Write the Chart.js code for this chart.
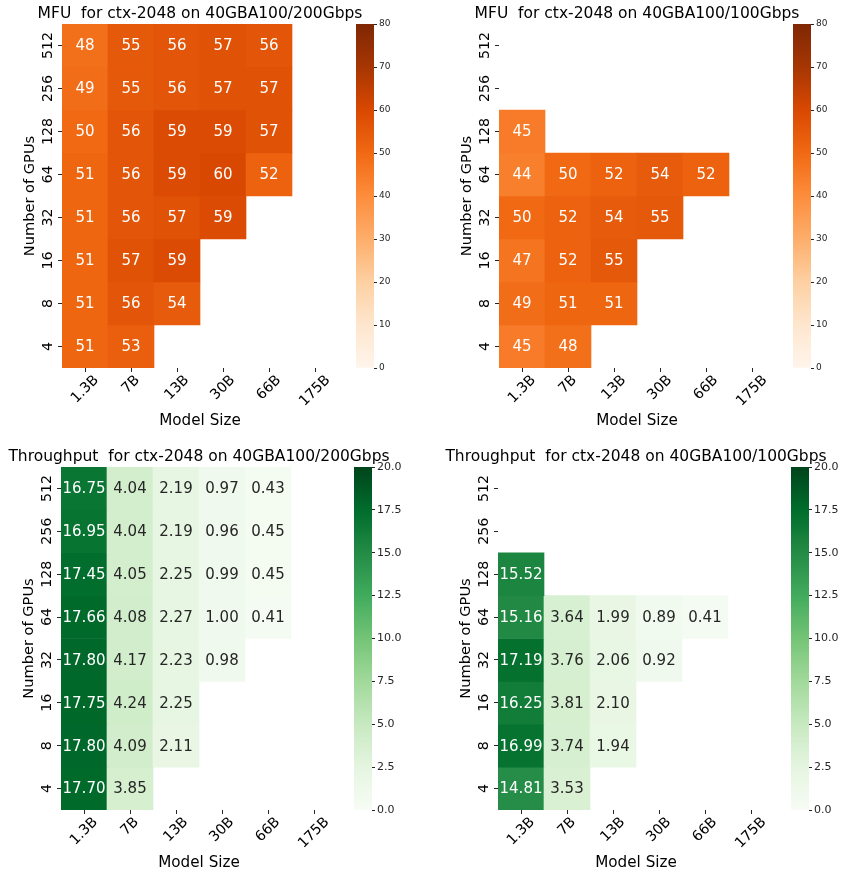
<!DOCTYPE html>
<html>
<head>
<meta charset="utf-8">
<script src="https://cdn.jsdelivr.net/npm/chart.js@4.4.1/dist/chart.umd.min.js"></script>
<style>
  html, body { margin: 0; padding: 0; background: #fff; overflow: hidden; }
  body { width: 841px; height: 875px; position: relative; }
  canvas { position: absolute; }
</style>
</head>
<body>
<canvas id="mfu200" width="402" height="430" style="left:0px;top:0px"></canvas>
<canvas id="mfu100" width="402" height="430" style="left:437px;top:0px"></canvas>
<canvas id="thr200" width="402" height="432" style="left:-1px;top:440px"></canvas>
<canvas id="thr100" width="402" height="432" style="left:436px;top:440px"></canvas>
<canvas id="cbMfu200" width="54" height="364" style="left:356px;top:14px"></canvas>
<canvas id="cbMfu100" width="54" height="364" style="left:793px;top:14px"></canvas>
<canvas id="cbThr200" width="54" height="363" style="left:354px;top:457px"></canvas>
<canvas id="cbThr100" width="54" height="363" style="left:791px;top:457px"></canvas>
<script>
// Categories
const modelSizes = ["1.3B", "7B", "13B", "30B", "66B", "175B"];
const gpuCounts = [512, 256, 128, 64, 32, 16, 8, 4];

// MFU (%) - rows follow gpuCounts, columns follow modelSizes
const mfu200 = [
  [48, 55, 56, 57, 56, null],
  [49, 55, 56, 57, 57, null],
  [50, 56, 59, 59, 57, null],
  [51, 56, 59, 60, 52, null],
  [51, 56, 57, 59, null, null],
  [51, 57, 59, null, null, null],
  [51, 56, 54, null, null, null],
  [51, 53, null, null, null, null],
];
const mfu100 = [
  [null, null, null, null, null, null],
  [null, null, null, null, null, null],
  [45, null, null, null, null, null],
  [44, 50, 52, 54, 52, null],
  [50, 52, 54, 55, null, null],
  [47, 52, 55, null, null, null],
  [49, 51, 51, null, null, null],
  [45, 48, null, null, null, null],
];

// Throughput
const thr200 = [
  [16.75, 4.04, 2.19, 0.97, 0.43, null],
  [16.95, 4.04, 2.19, 0.96, 0.45, null],
  [17.45, 4.05, 2.25, 0.99, 0.45, null],
  [17.66, 4.08, 2.27, 1.0, 0.41, null],
  [17.8, 4.17, 2.23, 0.98, null, null],
  [17.75, 4.24, 2.25, null, null, null],
  [17.8, 4.09, 2.11, null, null, null],
  [17.7, 3.85, null, null, null, null],
];
const thr100 = [
  [null, null, null, null, null, null],
  [null, null, null, null, null, null],
  [15.52, null, null, null, null, null],
  [15.16, 3.64, 1.99, 0.89, 0.41, null],
  [17.19, 3.76, 2.06, 0.92, null, null],
  [16.25, 3.81, 2.1, null, null, null],
  [16.99, 3.74, 1.94, null, null, null],
  [14.81, 3.53, null, null, null, null],
];

// Colormaps (matplotlib Oranges / Greens)
const oranges = ["#fff5eb", "#fee6ce", "#fdd0a2", "#fdae6b", "#fd8d3c", "#f16913", "#d94801", "#a63603", "#7f2704"];
const greens = ["#f7fcf5", "#e5f5e0", "#c7e9c0", "#a1d99b", "#74c476", "#41ab5d", "#238b45", "#006d2c", "#00441b"];

Chart.defaults.font.family = "'DejaVu Sans', sans-serif";
Chart.defaults.color = "#000";

const FONT = "'DejaVu Sans', sans-serif";

function hexToRgb(h) {
  return [1, 3, 5].map((i) => parseInt(h.slice(i, i + 2), 16));
}

function cmapRgb(stops, t) {
  t = Math.max(0, Math.min(1, t));
  const pos = t * (stops.length - 1);
  const i = Math.min(Math.floor(pos), stops.length - 2);
  const f = pos - i;
  const a = hexToRgb(stops[i]);
  const b = hexToRgb(stops[i + 1]);
  return a.map((v, k) => Math.round(v + (b[k] - v) * f));
}

// seaborn picks dark or white annotation text from the cell luminance
function textColor(rgb) {
  const lin = rgb.map((c) => {
    c = c / 255;
    return c <= 0.03928 ? c / 12.92 : Math.pow((c + 0.055) / 1.055, 2.4);
  });
  const lum = 0.2126 * lin[0] + 0.7152 * lin[1] + 0.0722 * lin[2];
  return lum > 0.408 ? "#262626" : "#fff";
}

// Write the value in each cell
const cellLabels = {
  id: "cellLabels",
  afterDatasetsDraw(chart) {
    const ctx = chart.ctx;
    ctx.save();
    ctx.font = "15px " + FONT;
    ctx.textAlign = "center";
    ctx.textBaseline = "middle";
    chart.data.datasets.forEach((ds, di) => {
      const meta = chart.getDatasetMeta(di);
      meta.data.forEach((el, ci) => {
        const v = ds.values[ci];
        if (v == null) return;
        const p = el.getCenterPoint();
        ctx.fillStyle = ds.textColors[ci];
        ctx.fillText(v.toFixed(ds.digits), p.x, p.y + 1);
      });
    });
    ctx.restore();
  },
};

// Title centred over the cells, rotated tick labels centred on their ticks
const axisText = {
  id: "axisText",
  afterDraw(chart) {
    const { ctx, chartArea } = chart;
    const x = chart.scales.x;
    const y = chart.scales.y;
    const t = chart.options.plugins.heatTitle;
    ctx.save();
    ctx.fillStyle = "#000";
    ctx.textAlign = "center";
    ctx.textBaseline = "middle";
    ctx.font = "15.5px " + FONT;
    ctx.fillText(t.text, (chartArea.left + chartArea.right) / 2, t.y);

    ctx.font = "14.2px " + FONT;
    x.ticks.forEach((tick, i) => {
      const label = modelSizes[i];
      const w = ctx.measureText(label).width;
      const cx = x.getPixelForTick(i);
      const cy = x.top + 5 + ((w + 14) * Math.SQRT1_2) / 2;
      ctx.save();
      ctx.translate(cx, cy);
      ctx.rotate(-Math.PI / 4);
      ctx.fillText(label, 0, 0);
      ctx.restore();
    });
    y.ticks.forEach((tick, i) => {
      ctx.save();
      ctx.translate(y.right - 14, y.getPixelForTick(i));
      ctx.rotate(-Math.PI / 2);
      ctx.fillText(String(gpuCounts[i]), 0, 0);
      ctx.restore();
    });
    ctx.restore();
  },
};

function createHeatmap(id, title, values, stops, vmax, digits, topPad, titleY) {
  const rows = gpuCounts.length;
  const datasets = gpuCounts.map((g, r) => {
    const level = rows - 1 - r;
    const colors = values[r].map((v) => (v == null ? null : cmapRgb(stops, v / vmax)));
    return {
      label: String(g),
      data: values[r].map((v) => (v == null ? null : [level, level + 1])),
      values: values[r],
      digits: digits,
      backgroundColor: colors.map((c) => (c ? `rgb(${c[0]},${c[1]},${c[2]})` : "transparent")),
      textColors: colors.map((c) => (c ? textColor(c) : null)),
      borderWidth: 0,
      grouped: false,
      barPercentage: 1,
      categoryPercentage: 1,
    };
  });

  return new Chart(document.getElementById(id), {
    type: "bar",
    data: { labels: modelSizes, datasets },
    options: {
      responsive: false,
      animation: false,
      layout: { padding: { top: topPad, right: 64 } },
      plugins: {
        legend: { display: false },
        tooltip: { enabled: false },
        heatTitle: { text: title, y: titleY },
      },
      scales: {
        x: {
          grid: { drawOnChartArea: false, offset: false, color: "#262626", tickLength: 4 },
          border: { display: false },
          ticks: { display: false },
          title: {
            display: true,
            text: "Model Size",
            color: "#000",
            font: { size: 15.2 },
            padding: { top: 0, bottom: 0 },
          },
          afterFit: (s) => {
            s.height = 62;
          },
        },
        y: {
          type: "linear",
          min: 0,
          max: rows,
          afterBuildTicks: (s) => {
            s.ticks = gpuCounts.map((g, r) => ({ value: rows - 1 - r + 0.5 }));
          },
          grid: { drawOnChartArea: false, color: "#262626", tickLength: 4 },
          border: { display: false },
          ticks: { display: false },
          title: {
            display: true,
            text: "Number of GPUs",
            color: "#000",
            font: { size: 14.6 },
            padding: { top: 21.2, bottom: 0 },
          },
          afterFit: (s) => {
            s.width = 62;
          },
        },
      },
    },
    plugins: [cellLabels, axisText],
  });
}

function createColorbar(id, stops, vmax, step, fontSize, digits) {
  const canvas = document.getElementById(id);
  return new Chart(canvas, {
    type: "bar",
    data: {
      labels: [""],
      datasets: [
        {
          data: [[0, vmax]],
          backgroundColor: (c) => {
            const { ctx, chartArea } = c.chart;
            if (!chartArea) return "transparent";
            const g = ctx.createLinearGradient(0, chartArea.bottom, 0, chartArea.top);
            stops.forEach((s, i) => g.addColorStop(i / (stops.length - 1), s));
            return g;
          },
          borderWidth: 0,
          barPercentage: 1,
          categoryPercentage: 1,
        },
      ],
    },
    options: {
      responsive: false,
      animation: false,
      layout: { padding: { top: 10, bottom: 10 } },
      plugins: { legend: { display: false }, tooltip: { enabled: false } },
      scales: {
        x: { display: false },
        y: {
          position: "right",
          min: 0,
          max: vmax,
          ticks: {
            stepSize: step,
            padding: 2,
            color: "#262626",
            font: { size: fontSize },
            callback: (v) => v.toFixed(digits),
          },
          grid: { drawOnChartArea: false, color: "#262626", tickLength: 3 },
          border: { display: false },
          afterFit: (s) => {
            s.width = canvas.width - 18;
          },
        },
      },
    },
  });
}

createHeatmap("mfu200", "MFU  for ctx-2048 on 40GBA100/200Gbps", mfu200, oranges, 80, 0, 24, 14);
createHeatmap("mfu100", "MFU  for ctx-2048 on 40GBA100/100Gbps", mfu100, oranges, 80, 0, 24, 14);
createHeatmap("thr200", "Throughput  for ctx-2048 on 40GBA100/200Gbps", thr200, greens, 20, 2, 27, 17);
createHeatmap("thr100", "Throughput  for ctx-2048 on 40GBA100/100Gbps", thr100, greens, 20, 2, 27, 17);

createColorbar("cbMfu200", oranges, 80, 10, 9, 0);
createColorbar("cbMfu100", oranges, 80, 10, 9, 0);
createColorbar("cbThr200", greens, 20, 2.5, 11, 1);
createColorbar("cbThr100", greens, 20, 2.5, 11, 1);
</script>
</body>
</html>
